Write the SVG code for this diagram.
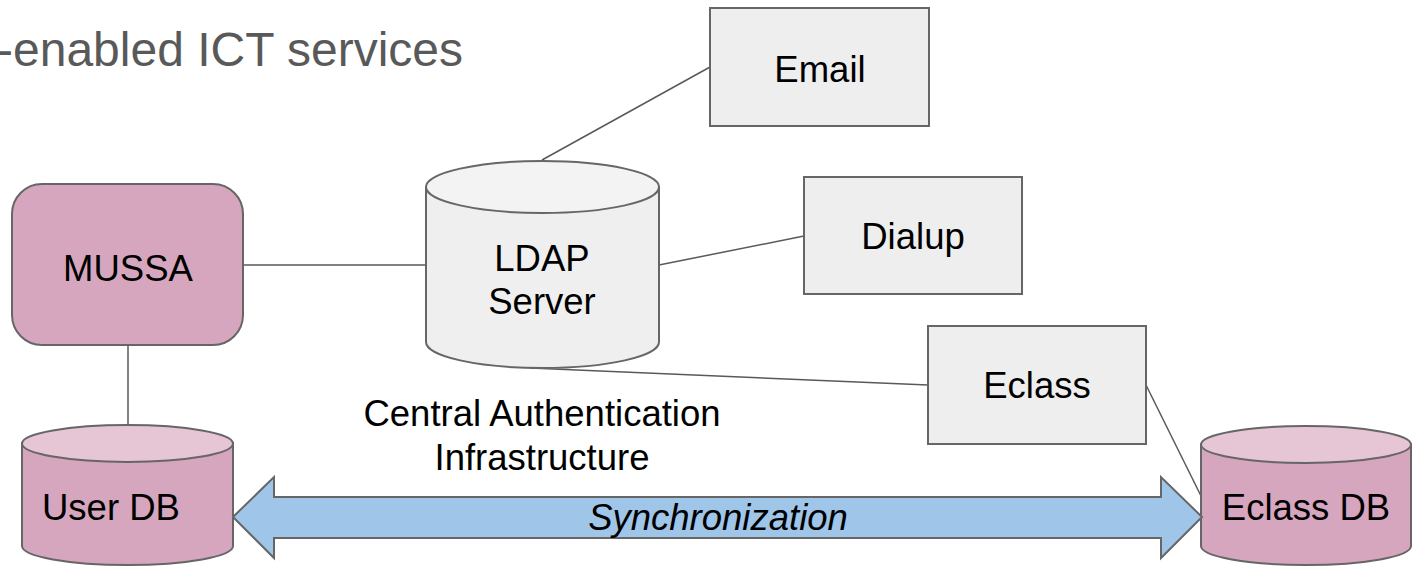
<svg xmlns="http://www.w3.org/2000/svg" width="1418" height="566" viewBox="0 0 1418 566">
<style>
text{font-family:"Liberation Sans",Arial,sans-serif;font-size:36.5px;fill:#000}
.c{text-anchor:middle}
.box{fill:#eeeeee;stroke:#666666;stroke-width:2}
.pink{fill:#d5a6bd;stroke:#666666;stroke-width:2}
.pinktop{fill:#e6c5d5;stroke:#666666;stroke-width:2}
.gray{fill:#efefef;stroke:#666666;stroke-width:2}
.graytop{fill:#f3f3f3;stroke:#666666;stroke-width:2}
.ln{stroke:#595959;stroke-width:1.5;fill:none}
</style>
<rect width="1418" height="566" fill="#ffffff"/>
<text x="463" y="66" style="text-anchor:end;font-size:48px;fill:#595959">-enabled ICT services</text>
<g id="connectors">
<line class="ln" x1="243" y1="265" x2="427" y2="265"/>
<line class="ln" x1="128" y1="345" x2="128" y2="426"/>
<line class="ln" x1="542" y1="160" x2="710" y2="67"/>
<line class="ln" x1="659" y1="265" x2="804" y2="236"/>
<line class="ln" x1="530" y1="368" x2="928" y2="385"/>
<line class="ln" x1="1146" y1="385" x2="1202" y2="498"/>
</g>
<g id="mussa">
<rect class="pink" x="12" y="184" width="231" height="161" rx="30"/>
<text class="c" x="128" y="281">MUSSA</text>
</g>
<g id="ldap">
<path class="gray" d="M426,187 V342 A116.5,26 0 0 0 659,342 V187 Z"/>
<ellipse class="graytop" cx="542.5" cy="187" rx="116.5" ry="26"/>
<text class="c" x="542" y="271">LDAP</text>
<text class="c" x="542" y="314">Server</text>
</g>
<g id="email">
<rect class="box" x="710" y="8" width="219" height="118"/>
<text class="c" x="820" y="82">Email</text>
</g>
<g id="dialup">
<rect class="box" x="804" y="177" width="218" height="117"/>
<text class="c" x="913" y="249">Dialup</text>
</g>
<g id="eclass">
<rect class="box" x="928" y="326" width="218" height="118"/>
<text class="c" x="1037" y="398">Eclass</text>
</g>
<g id="userdb">
<path class="pink" d="M22,443 V546 A105.5,19 0 0 0 233,546 V443 Z"/>
<ellipse class="pinktop" cx="127.5" cy="443.5" rx="105.5" ry="18.5"/>
<text x="42" y="520">User DB</text>
</g>
<g id="eclassdb">
<path class="pink" d="M1201,444.5 V546 A105,19 0 0 0 1411,546 V444.5 Z"/>
<ellipse class="pinktop" cx="1306" cy="444.5" rx="105" ry="18.5"/>
<text class="c" x="1306" y="520">Eclass DB</text>
</g>
<g id="sync">
<path d="M233,517 L274,477 V497 H1161 V477 L1202,517 L1161,558 V538 H274 V558 Z" fill="#9fc5e8" stroke="#666666" stroke-width="2" stroke-linejoin="miter"/>
<text class="c" x="718" y="530" style="font-style:italic">Synchronization</text>
</g>
<g id="cai">
<text class="c" x="542" y="426">Central Authentication</text>
<text class="c" x="542" y="470">Infrastructure</text>
</g>
</svg>
